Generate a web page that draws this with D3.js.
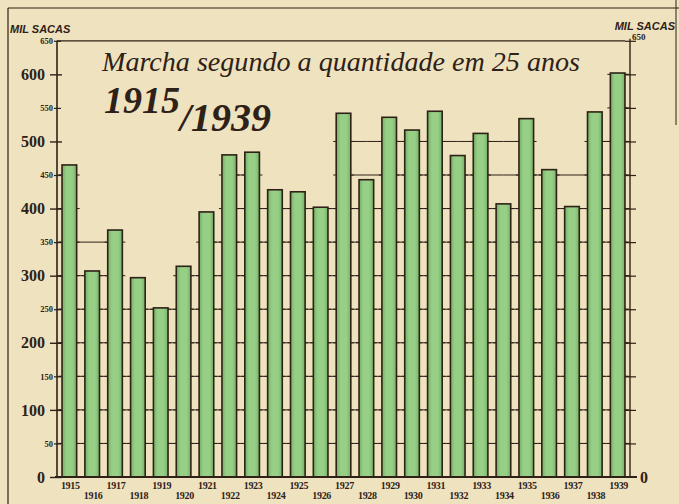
<!DOCTYPE html>
<html>
<head>
<meta charset="utf-8">
<script src="https://cdn.jsdelivr.net/npm/d3@7"></script>
<style>
  body { margin: 0; background: #efe2bf; }
  svg { display: block; }
</style>
</head>
<body>
<div id="chart"></div>
<script>
// data (mil sacas)
let years = ["1915","1916","1917","1918","1919","1920","1921","1922","1923","1924","1925","1926","1927",
             "1928","1929","1930","1931","1932","1933","1934","1935","1936","1937","1938","1939"];
let sacas = [465, 307, 368, 297, 252, 314, 395, 480, 484, 428, 425, 402, 542,
             443, 536, 517, 545, 479, 512, 407, 534, 458, 403, 544, 602];
let majorTicks = [0, 100, 200, 300, 400, 500, 600];
let minorTicks = [50, 150, 250, 350, 450, 550, 650];
let allTicks = [50, 100, 150, 200, 250, 300, 350, 400, 450, 500, 550, 600, 650];

let w = 679; let h = 504;
let ink = "#2e2117";

let svg = d3.select("#chart").append("svg").attr("width", w).attr("height", h);
svg.append("rect").attr("width", w).attr("height", h).attr("fill", "#efe2bf");

// gradient for the bars
let grad = svg.append("defs").append("linearGradient").attr("id", "barfill")
  .attr("x1", "0%").attr("x2", "100%").attr("y1", "0%").attr("y2", "0%");
grad.append("stop").attr("offset", "0%").attr("stop-color", "#72b063");
grad.append("stop").attr("offset", "30%").attr("stop-color", "#98cf86");
grad.append("stop").attr("offset", "70%").attr("stop-color", "#98cf86");
grad.append("stop").attr("offset", "100%").attr("stop-color", "#74b265");

let yScale = d3.scaleLinear().domain([0, 650]).range([477, 40.8]);
let xScale = d3.scaleBand().domain(years).range([57, 630]).paddingInner(0.36).paddingOuter(0.22);
let bw = xScale.bandwidth();

// outer frame
svg.append("line").attr("x1", 8).attr("x2", 679).attr("y1", 8).attr("y2", 8).attr("stroke", ink).attr("stroke-width", 1.2);
svg.append("line").attr("x1", 8).attr("x2", 8).attr("y1", 8).attr("y2", 504).attr("stroke", ink).attr("stroke-width", 1.2);
svg.append("line").attr("x1", 676).attr("x2", 676).attr("y1", 0).attr("y2", 125).attr("stroke", ink).attr("stroke-width", 1);

// gridline pieces between bars ("ladder")
let eff = sacas.map((v, i) => {
  let l = i > 0 ? sacas[i - 1] : v;
  let r = i < sacas.length - 1 ? sacas[i + 1] : v;
  return Math.max(v, Math.min(l, r));
});
let grid = svg.append("g").attr("stroke", ink).attr("stroke-width", 1);
allTicks.filter(t => t < 650).forEach(t => {
  // from left axis to first bar
  if (t <= eff[0]) grid.append("line").attr("x1", 57).attr("x2", xScale(years[0]) + bw / 2)
    .attr("y1", yScale(t)).attr("y2", yScale(t));
  for (let i = 0; i < years.length - 1; i++) {
    if (t <= Math.min(eff[i], eff[i + 1])) {
      grid.append("line")
        .attr("x1", xScale(years[i]) + bw / 2).attr("x2", xScale(years[i + 1]) + bw / 2)
        .attr("y1", yScale(t)).attr("y2", yScale(t));
    }
  }
  let last = years.length - 1;
  if (t <= eff[last]) grid.append("line").attr("x1", xScale(years[last]) + bw / 2).attr("x2", 630)
    .attr("y1", yScale(t)).attr("y2", yScale(t));
});

// bars
svg.append("g").selectAll("rect").data(years).enter().append("rect")
  .attr("x", d => xScale(d))
  .attr("y", (d, i) => yScale(sacas[i]))
  .attr("width", bw)
  .attr("height", (d, i) => yScale(0) - yScale(sacas[i]))
  .attr("fill", "url(#barfill)")
  .attr("stroke", ink)
  .attr("stroke-width", 1.6);

// small ticks on the bar sides
let sideTicks = svg.append("g").attr("stroke", ink).attr("stroke-width", 1);
years.forEach((d, i) => {
  allTicks.filter(t => t <= sacas[i]).forEach(t => {
    sideTicks.append("line").attr("x1", xScale(d) - 3).attr("x2", xScale(d))
      .attr("y1", yScale(t)).attr("y2", yScale(t));
    sideTicks.append("line").attr("x1", xScale(d) + bw).attr("x2", xScale(d) + bw + 3)
      .attr("y1", yScale(t)).attr("y2", yScale(t));
  });
});

// plot frame: left axis, right axis, top and bottom lines
svg.append("line").attr("x1", 57).attr("x2", 57).attr("y1", yScale(650)).attr("y2", yScale(0)).attr("stroke", ink).attr("stroke-width", 1.6);
svg.append("line").attr("x1", 630).attr("x2", 630).attr("y1", yScale(650) - 2).attr("y2", yScale(0)).attr("stroke", ink).attr("stroke-width", 1.4);
svg.append("line").attr("x1", 57).attr("x2", 625).attr("y1", yScale(650)).attr("y2", yScale(650)).attr("stroke", ink).attr("stroke-width", 1.2);
svg.append("line").attr("x1", 55).attr("x2", 637).attr("y1", yScale(0)).attr("y2", yScale(0)).attr("stroke", ink).attr("stroke-width", 2);

// left axis: big labels every 100
let leftMajor = svg.append("g").attr("transform", "translate(62, 0)")
  .call(d3.axisLeft(yScale).tickValues(majorTicks).tickSize(12).tickPadding(5).tickFormat(d3.format("d")));
leftMajor.select(".domain").remove();
leftMajor.selectAll("line").attr("stroke", ink).attr("stroke-width", 1.4);
leftMajor.selectAll("text").attr("font-family", "Liberation Serif").attr("font-weight", "bold")
  .attr("font-size", "16px").attr("fill", ink);

// left axis: small labels at the 50s
let leftMinor = svg.append("g").attr("transform", "translate(61, 0)")
  .call(d3.axisLeft(yScale).tickValues(minorTicks).tickSize(7).tickPadding(1).tickFormat(d3.format("d")));
leftMinor.select(".domain").remove();
leftMinor.selectAll("line").attr("stroke", ink).attr("stroke-width", 1.2);
leftMinor.selectAll("text").attr("font-family", "Liberation Serif").attr("font-weight", "bold")
  .attr("font-size", "8.5px").attr("fill", ink);

// right axis: ticks both sides, only 0 and 650 labelled
let rightAxis = svg.append("g").attr("transform", "translate(625, 0)")
  .call(d3.axisRight(yScale).tickValues([0].concat(allTicks)).tickSize(11).tickPadding(4)
    .tickFormat(d => (d === 0 || d === 650) ? d : ""));
rightAxis.select(".domain").remove();
rightAxis.selectAll("line").attr("stroke", ink).attr("stroke-width", 1.2);
rightAxis.selectAll("text").attr("font-family", "Liberation Serif").attr("font-weight", "bold")
  .attr("fill", ink)
  .attr("font-size", d => d === 0 ? "16px" : "9px")
  .attr("dy", d => d === 650 ? "-0.1em" : "0.32em");
rightAxis.selectAll(".tick").filter(d => d === 650).select("text").attr("x", 7);
rightAxis.selectAll(".tick").filter(d => d === 0).select("line").attr("x2", 0);

// year labels, staggered in two rows
svg.append("g").selectAll("text").data(years).enter().append("text")
  .attr("x", d => xScale(d) + bw / 2 + 1)
  .attr("y", (d, i) => i % 2 === 0 ? 489 : 499)
  .attr("text-anchor", "middle")
  .attr("font-family", "Liberation Serif").attr("font-weight", "bold")
  .attr("font-size", "10px").attr("fill", ink)
  .attr("letter-spacing", "-0.3px")
  .text(d => d);

// unit labels
svg.append("text").attr("x", 10).attr("y", 33)
  .attr("font-family", "Liberation Sans").attr("font-weight", "bold").attr("font-style", "italic")
  .attr("font-size", "11px").attr("fill", ink).text("MIL SACAS");
svg.append("text").attr("x", 675).attr("y", 30).attr("text-anchor", "end")
  .attr("font-family", "Liberation Sans").attr("font-weight", "bold").attr("font-style", "italic")
  .attr("font-size", "11px").attr("fill", ink).text("MIL SACAS");

// titles
svg.append("text").attr("x", 102).attr("y", 71)
  .attr("font-family", "Liberation Serif").attr("font-style", "italic")
  .attr("font-size", "28px").attr("fill", ink)
  .attr("textLength", 478).attr("lengthAdjust", "spacingAndGlyphs")
  .text("Marcha segundo a quantidade em 25 anos");
svg.append("text").attr("x", 104).attr("y", 113)
  .attr("font-family", "Liberation Serif").attr("font-style", "italic").attr("font-weight", "bold")
  .attr("font-size", "38px").attr("fill", ink).text("1915");
svg.append("text").attr("x", 180).attr("y", 131)
  .attr("font-family", "Liberation Serif").attr("font-style", "italic").attr("font-weight", "bold")
  .attr("font-size", "40px").attr("fill", ink).text("/1939");
</script>
</body>
</html>
